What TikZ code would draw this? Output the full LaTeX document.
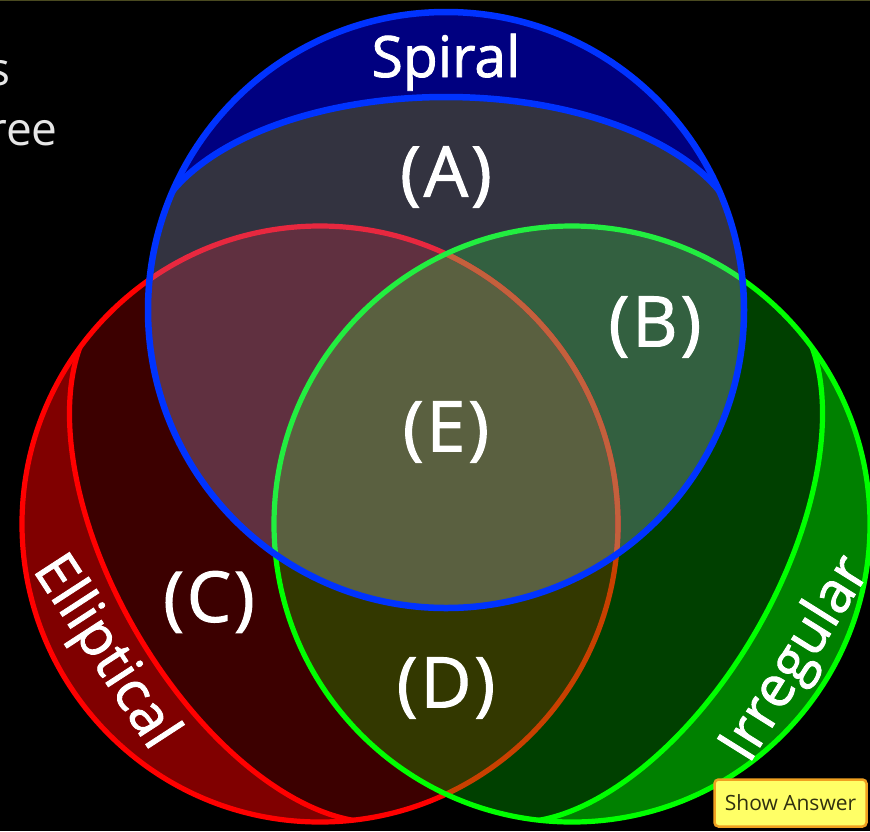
\documentclass[tikz,border=0pt]{standalone}
\usepackage{fontspec}
\setmainfont{Open Sans}
\newfontfamily\lblfont{Open Sans}[FakeBold=1.5]
\definecolor{redband}{HTML}{800000}
\definecolor{redmain}{HTML}{3C0000}
\definecolor{redline}{HTML}{FF0000}
\definecolor{redOnGreen}{HTML}{C84000}
\definecolor{redOnBlue}{HTML}{E8283F}
\definecolor{redOnBG}{HTML}{C4603C}
\definecolor{greenband}{HTML}{008000}
\definecolor{greenmain}{HTML}{004000}
\definecolor{greenline}{HTML}{00FF00}
\definecolor{greenOnBlue}{HTML}{22EE40}
\definecolor{dcol}{HTML}{333800}
\definecolor{blueband}{HTML}{000080}
\definecolor{acol}{HTML}{333340}
\definecolor{brcol}{HTML}{603040}
\definecolor{bgcol}{HTML}{336040}
\definecolor{ecol}{HTML}{5A6040}
\definecolor{blueline}{HTML}{0033FF}
\definecolor{btnfill}{HTML}{FFFF66}
\definecolor{btnborder}{HTML}{F0A020}
\definecolor{btntext}{HTML}{303010}
\definecolor{fragcol}{HTML}{E6E6E6}
\definecolor{topline}{HTML}{4A4A20}
\def\vBo{(446,310) circle (298pt)}
\def\vRo{(320,524) circle (298pt)}
\def\vGo{(572,524) circle (298pt)}
\def\vBandPath{(-298pt,0pt) arc[start angle=180,end angle=0,x radius=298pt,y radius=156pt] -- (298pt,520pt) -- (-298pt,520pt) -- cycle}
\def\vArcPath{(-298pt,0pt) arc[start angle=180,end angle=0,x radius=298pt,y radius=156pt]}
\begin{document}
\begin{tikzpicture}[x=1pt,y=-1pt,
  rline/.style={line width=5.2pt},
  gline/.style={line width=5.2pt},
  bline/.style={line width=6.5pt, draw=blueline},
  lbl/.style={text=white, font=\lblfont\fontsize{57}{60}\selectfont, inner sep=0pt},
  rgn/.style={text=white, font=\lblfont\fontsize{70}{74}\selectfont, inner sep=0pt},
  frag/.style={text=fragcol, font=\fontsize{46}{50}\selectfont, inner sep=0pt, anchor=base east}]
\clip (0,0) rectangle (870,831);
\fill[black] (0,0) rectangle (870,831);
\draw[topline, line width=1.2pt] (0,0.6) -- (870,0.6);
% red set
\fill[redmain] \vRo;
\begin{scope}
  \clip \vRo;
  \begin{scope}[shift={(270.6,552.5)}, rotate=120]
    \fill[redband] \vBandPath;
    \draw[rline, draw=redline] \vArcPath;
  \end{scope}
\end{scope}
\draw[rline, draw=redline] \vRo;
% green set
\fill[greenmain] \vGo;
\begin{scope}
  \clip \vGo;
  \begin{scope}[shift={(621.4,552.5)}, rotate=-120]
    \fill[greenband] \vBandPath;
  \end{scope}
  \begin{scope}\clip \vRo; \fill[dcol] (0,0) rectangle (870,831); \end{scope}
  \draw[rline, draw=redOnGreen] \vRo;
  \begin{scope}[shift={(621.4,552.5)}, rotate=-120]
    \draw[gline, draw=greenline] \vArcPath;
  \end{scope}
\end{scope}
\draw[gline, draw=greenline] \vGo;
% blue set
\fill[acol] \vBo;
\begin{scope}
  \clip \vBo;
  \begin{scope}\clip \vRo; \fill[brcol] (0,0) rectangle (870,831); \end{scope}
  \begin{scope}\clip \vGo; \fill[bgcol] (0,0) rectangle (870,831); \end{scope}
  \begin{scope}\clip \vRo; \clip \vGo; \fill[ecol] (0,0) rectangle (870,831); \end{scope}
  \draw[rline, draw=redOnBlue] \vRo;
  \begin{scope}\clip \vGo; \draw[rline, draw=redOnBG] \vRo; \end{scope}
  \draw[gline, draw=greenOnBlue] \vGo;
  \begin{scope}[shift={(446,253)}]
    \fill[blueband] \vBandPath;
    \draw[bline] \vArcPath;
  \end{scope}
\end{scope}
\draw[bline] \vBo;
% labels
\node (spiral) [lbl, anchor=base] at (446,77) {Spiral};
\node (ellip) [lbl, rotate=-57] at (104,653) {Elliptical};
\node (irreg) [lbl, rotate=58] at (797,660) {Irregular};
\node (ra) [rgn] at (446,177) {(\kern3pt A\kern3pt)};
\node (rb) [rgn] at (655,327) {(\kern3pt B\kern3pt)};
\node (rc) [rgn] at (209,602) {(\kern3pt C\kern3pt)};
\node (rd) [rgn] at (446,688) {(\kern3pt D\kern3pt)};
\node (re) [rgn] at (446,432) {(\kern3pt E\kern3pt)};
\node (frs) [frag] at (11,85) {s};
\node (frree) [frag] at (58,145) {ree};
\node (btn) [draw=btnborder, line width=2.5pt, fill=btnfill, rounded corners=4pt,
  minimum width=152pt, minimum height=47pt, inner sep=0pt, text=btntext,
  font=\fontsize{21}{24}\selectfont] at (790.5,803) {Show Answer};
\end{tikzpicture}
\end{document}
